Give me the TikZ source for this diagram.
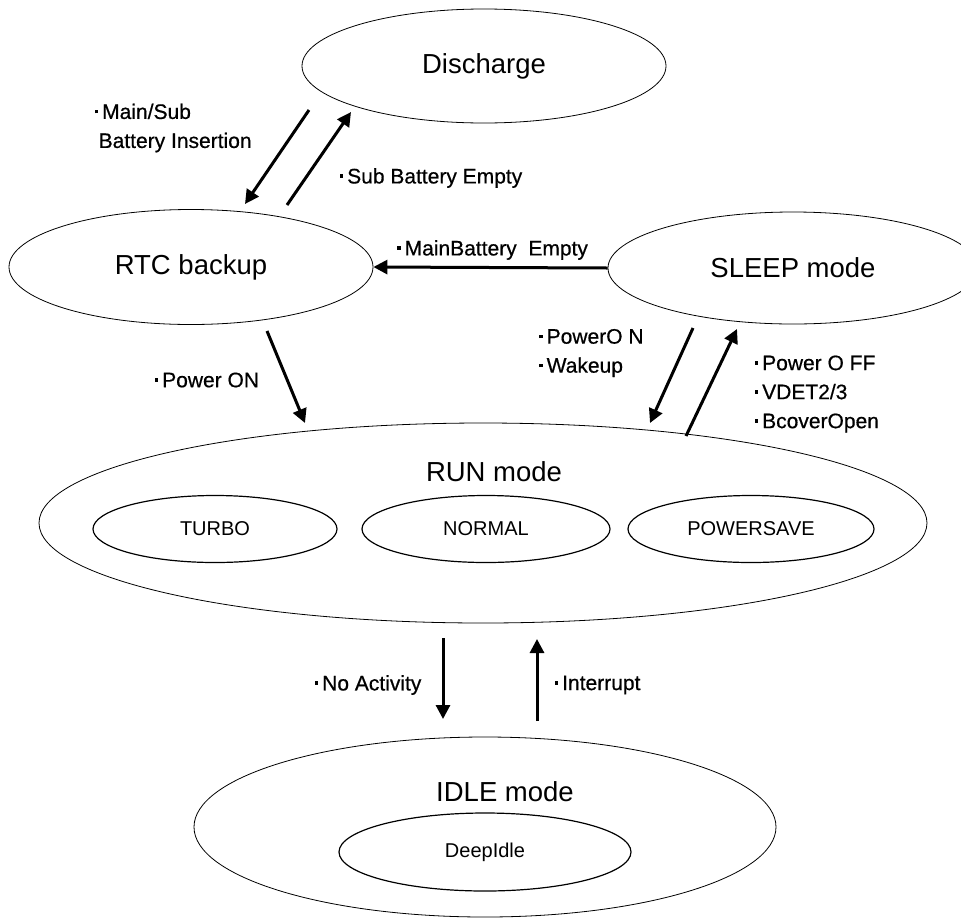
\documentclass[tikz,border=0pt]{standalone}
\usepackage{fontspec}
\setmainfont{Liberation Sans}
\newfontfamily\evfont[FakeBold=0.6]{Liberation Sans}
\usetikzlibrary{shapes.geometric,arrows.meta}
\newcommand{\bul}{\hspace*{3pt}\rule[5.5pt]{3.5pt}{3.5pt}\hspace{4pt}}

\begin{document}
\begin{tikzpicture}[
    x=1pt, y=-1pt,
    state/.style={draw, ellipse, line width=0.8pt, inner sep=0pt,
      font=\fontsize{27.5}{33}\selectfont},
    substate/.style={draw, ellipse, line width=1.2pt, inner sep=0pt,
      font=\fontsize{20}{24}\selectfont},
    title/.style={font=\fontsize{27.5}{33}\selectfont, inner sep=0pt},
    event/.style={font=\evfont\fontsize{21}{29}\selectfont, align=left,
      anchor=west, inner sep=0pt},
    trans/.style={->, line width=3pt},
    >={Triangle[length=14pt,width=14pt]}
  ]
  \useasboundingbox (0,0) rectangle (961,919);

  % States
  \node[state, minimum width=364pt, minimum height=114pt] (discharge) at (484,66) {Discharge};
  \node[state, minimum width=364pt, minimum height=115pt] (rtc) at (191,267) {RTC backup};
  \node[state, minimum width=370pt, minimum height=112pt] (sleep) at (793,268) {SLEEP mode};

  \node[state, minimum width=888pt, minimum height=200pt] (run) at (483,523) {};
  \node[title] (runlabel) at (494,472) {RUN mode};
  \node[substate, minimum width=244pt, minimum height=67pt] (turbo) at (215,529) {TURBO};
  \node[substate, minimum width=248pt, minimum height=67pt] (normal) at (486,529) {NORMAL};
  \node[substate, minimum width=246pt, minimum height=67pt] (powersave) at (751,529) {POWERSAVE};

  \node[state, minimum width=582pt, minimum height=180pt] (idle) at (485,827) {};
  \node[title] (idlelabel) at (505,792) {IDLE mode};
  \node[substate, minimum width=292pt, minimum height=78pt] (deepidle) at (485,852) {DeepIdle};

  % Transition end points
  \coordinate (insA) at (309,110);
  \coordinate (insB) at (245,204);
  \coordinate (subA) at (287,205);
  \coordinate (subB) at (351,112);
  \coordinate (ponA) at (267,331);
  \coordinate (ponB) at (305,423);
  \coordinate (wakeA) at (693,328);
  \coordinate (wakeB) at (650,423);
  \coordinate (poffA) at (686,436);
  \coordinate (poffB) at (737,329);
  \coordinate (noactA) at (443,638);
  \coordinate (noactB) at (443,719);
  \coordinate (intA) at (537,721);
  \coordinate (intB) at (537,639);

  % Transitions
  \draw[trans] (insA) -- (insB);
  \draw[trans] (subA) -- (subB);
  \draw[trans] (sleep.west) -- (rtc.east);
  \draw[trans] (ponA) -- (ponB);
  \draw[trans] (wakeA) -- (wakeB);
  \draw[trans] (poffA) -- (poffB);
  \draw[trans] (noactA) -- (noactB);
  \draw[trans] (intA) -- (intB);

  % Events
  \node[event] (insLbl) at (91.5,128) {\bul Main/Sub\\\hspace*{7pt}Battery Insertion};
  \node[event] (subLbl) at (336.5,178) {\bul Sub Battery Empty};
  \node[event] (mainLbl) at (394,250) {\bul MainBattery\ \ Empty};
  \node[event] (ponLbl) at (151.5,380) {\bul Power ON};
  \node[event] (wakeLbl) at (536,353) {\bul PowerO N\\\bul Wakeup};
  \node[event] (poffLbl) at (751.5,394) {\bul Power O FF\\\bul VDET2/3\\\bul BcoverOpen};
  \node[event] (noactLbl) at (311.5,685) {\bul No Activity};
  \node[event] (intLbl) at (551.5,685) {\bul Interrupt};
\end{tikzpicture}
\end{document}
